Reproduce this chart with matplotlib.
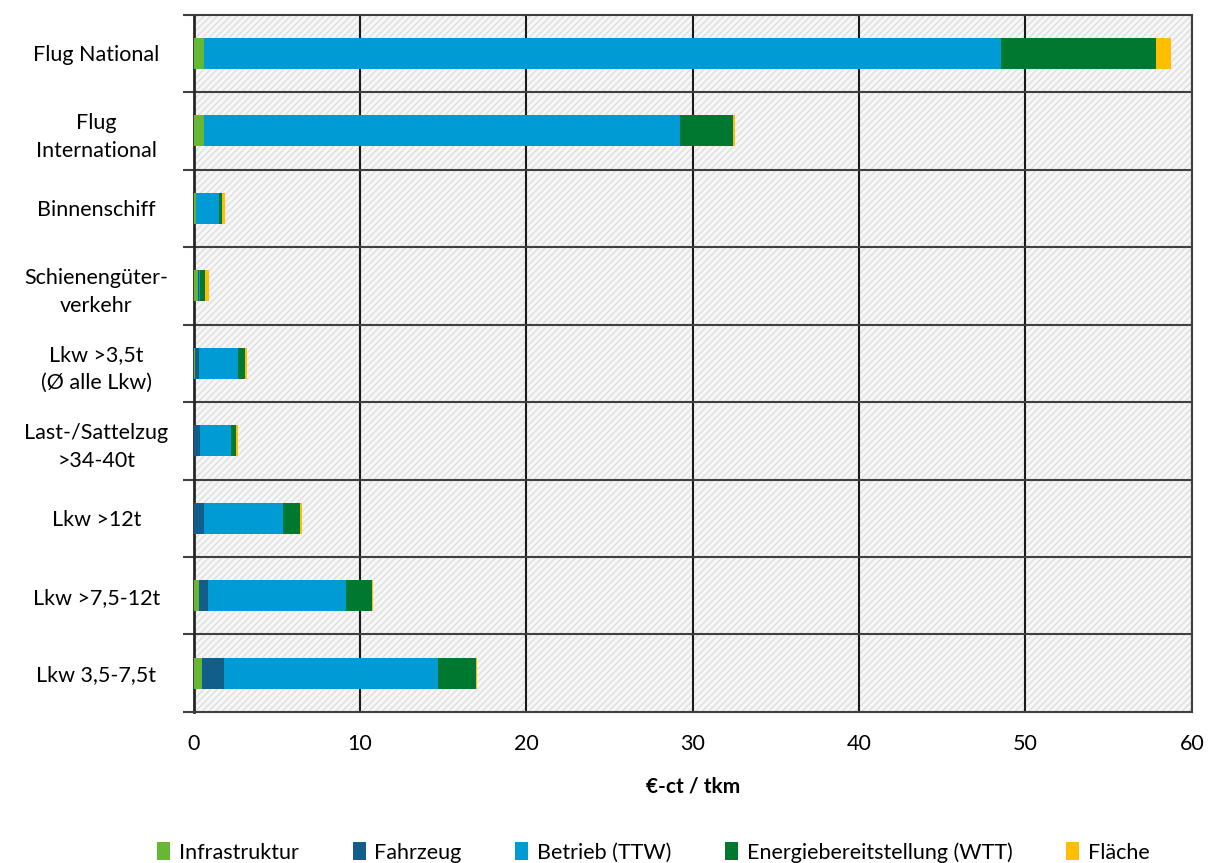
import numpy as np
import matplotlib.pyplot as plt
from matplotlib.patches import Rectangle

plt.rcParams['font.family'] = ['Lato', 'DejaVu Sans']

# categories, top to bottom
categories = ['Flug National', 'Flug\nInternational', 'Binnenschiff', 'Schienengüter-\nverkehr',
              'Lkw >3,5t\n(Ø alle Lkw)', 'Last-/Sattelzug\n>34-40t', 'Lkw >12t',
              'Lkw >7,5-12t', 'Lkw 3,5-7,5t']

# €-ct / tkm per component
infrastruktur = [0.65, 0.65, 0.12, 0.25, 0.10, 0.05, 0.05, 0.30, 0.50]
fahrzeug = [0.0, 0.0, 0.05, 0.10, 0.25, 0.35, 0.55, 0.55, 1.35]
betrieb = [47.9, 28.6, 1.35, 0.05, 2.30, 1.85, 4.80, 8.30, 12.85]
energie = [9.3, 3.2, 0.20, 0.30, 0.45, 0.30, 1.02, 1.55, 2.25]
flaeche = [0.9, 0.12, 0.15, 0.20, 0.10, 0.10, 0.08, 0.10, 0.10]

series = [('Infrastruktur', infrastruktur, '#66b832'),
          ('Fahrzeug', fahrzeug, '#125e8a'),
          ('Betrieb (TTW)', betrieb, '#009bd4'),
          ('Energiebereitstellung (WTT)', energie, '#00782f'),
          ('Fläche', flaeche, '#ffbf00')]

fig = plt.figure(figsize=(12.1, 8.63), dpi=100)
ax = fig.add_axes([0.160, 0.175, 0.825, 0.808])

# hatched background
bg = Rectangle((0, 0), 1, 1, transform=ax.transAxes, facecolor='#f7f7f7',
               edgecolor='#dedede', hatch='/////', linewidth=0, zorder=0)
ax.add_patch(bg)

y = np.arange(len(categories))
left = np.zeros(len(categories))
for name, vals, col in series:
    vals = np.array(vals)
    ax.barh(y, vals, left=left, height=0.4, color=col, label=name, zorder=3)
    left += vals

ax.set_xlim(0, 60)
ax.set_ylim(len(categories) - 0.5, -0.5)
ax.set_xticks(np.arange(0, 61, 10))
ax.set_yticks(y)
ax.set_yticklabels(categories, fontsize=15.5, ha='center', linespacing=1.5)
ax.tick_params(axis='y', length=0, pad=70)
ax.set_yticks(np.arange(-0.5, len(categories), 1), minor=True)
ax.tick_params(axis='y', which='minor', length=8, width=1.5, color='#404040')
ax.tick_params(axis='x', length=0, labelsize=15.5, pad=16)

for v in np.arange(10, 61, 10):
    ax.axvline(v, color='#1a1a1a', lw=1.5, zorder=1)
for b in np.arange(0.5, len(categories) - 1, 1):
    ax.axhline(b, color='#404040', lw=1.5, zorder=1)

for s in ['top', 'right']:
    ax.spines[s].set_color('#404040')
    ax.spines[s].set_linewidth(1.5)
ax.spines['left'].set_color('#262626')
ax.spines['left'].set_linewidth(2)
ax.spines['bottom'].set_color('#404040')
ax.spines['bottom'].set_linewidth(1.5)

ax.set_xlabel('€-ct / tkm', fontsize=15, fontweight='bold', labelpad=16)

fig.legend(loc='lower center', bbox_to_anchor=(0.54, -0.022), ncol=5, frameon=False,
           fontsize=15.5, handlelength=0.6, handleheight=0.9, columnspacing=2.5,
           handletextpad=0.4)

fig.savefig('out.png', dpi=100)
